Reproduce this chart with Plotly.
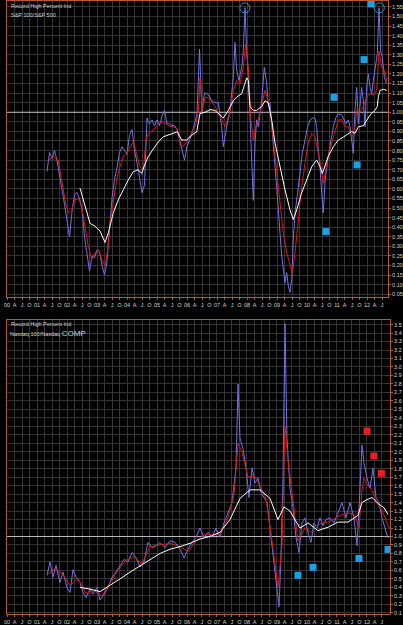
import plotly.graph_objects as go

# ---------------- DATA ----------------
# Top panel: S&P 100 / S&P 500 record-high percent ratio (decimal years)
top_blue_t = [2001.333, 2001.417, 2001.5, 2001.583, 2001.667, 2001.75, 2001.833, 2001.917,
              2002.0, 2002.083, 2002.167, 2002.25, 2002.333, 2002.417, 2002.5, 2002.583,
              2002.667, 2002.75, 2002.833, 2002.917, 2003.0, 2003.083, 2003.167, 2003.25,
              2003.333, 2003.417, 2003.5, 2003.583, 2003.667, 2003.75, 2003.833, 2003.917,
              2004.0, 2004.083, 2004.167, 2004.25, 2004.333, 2004.417, 2004.5, 2004.583,
              2004.667, 2004.75, 2004.833, 2004.917, 2005.0, 2005.083, 2005.167, 2005.25,
              2005.333, 2005.417, 2005.5, 2005.583, 2005.667, 2005.75, 2005.833, 2005.917,
              2006.0, 2006.083, 2006.167, 2006.25, 2006.333, 2006.417, 2006.5, 2006.583,
              2006.667, 2006.75, 2006.833,
              2006.933, 2007.044, 2007.156, 2007.211, 2007.322, 2007.433, 2007.544, 2007.6,
              2007.656, 2007.733, 2007.822, 2007.878, 2007.933, 2007.989, 2008.044, 2008.1,
              2008.156, 2008.211, 2008.267, 2008.322, 2008.378, 2008.489, 2008.578, 2008.656,
              2008.711, 2008.767, 2008.822, 2008.878, 2008.933, 2008.989, 2009.044, 2009.1,
              2009.156, 2009.211, 2009.267, 2009.322, 2009.378, 2009.433, 2009.489, 2009.544,
              2009.6, 2009.689, 2009.767, 2009.844, 2009.933, 2010.022, 2010.1, 2010.178,
              2010.267, 2010.322, 2010.378, 2010.433, 2010.489, 2010.544, 2010.6, 2010.656,
              2010.711, 2010.8, 2010.878, 2010.956, 2011.044, 2011.133, 2011.211, 2011.289,
              2011.378, 2011.433, 2011.489, 2011.544, 2011.6, 2011.656, 2011.711, 2011.767,
              2011.822, 2011.878, 2011.933, 2011.989, 2012.044, 2012.1, 2012.156, 2012.211,
              2012.267, 2012.344, 2012.4, 2012.456, 2012.511, 2012.578, 2012.656]
top_blue_v = [0.69, 0.79, 0.76, 0.80, 0.75, 0.66, 0.595, 0.52,
              0.43, 0.35, 0.48, 0.57, 0.58, 0.55, 0.49, 0.35,
              0.26, 0.17, 0.25, 0.24, 0.28, 0.27, 0.20, 0.15,
              0.22, 0.40, 0.55, 0.65, 0.71, 0.79, 0.82, 0.80,
              0.78, 0.88, 0.91, 0.80, 0.74, 0.66, 0.58, 0.62,
              0.97, 0.94, 0.96, 0.93, 0.96, 0.93, 0.98, 1.01,
              0.94, 0.94, 0.93, 0.93, 0.91, 0.86, 0.80, 0.75,
              0.82, 0.85, 0.89, 0.94, 0.99, 1.33, 1.00, 1.10,
              1.10, 1.08, 1.06,
              1.05, 1.05, 0.924, 0.82, 0.924, 1.01, 1.18, 1.365,
              1.22, 1.166, 1.235, 1.32, 1.546, 1.32, 1.20, 1.01,
              0.75, 0.54, 0.84, 0.96, 0.924, 1.06, 1.235, 1.15,
              1.03, 1.05, 0.924, 0.82, 0.716, 0.61, 0.51, 0.37,
              0.25, 0.163, 0.11, 0.163, 0.093, 0.059, 0.128, 0.336,
              0.474, 0.58, 0.70, 0.786, 0.855, 0.924, 0.96, 0.97,
              0.97, 0.924, 0.80, 0.716, 0.58, 0.474, 0.64, 0.715,
              0.77, 0.855, 0.924, 0.97, 0.99, 0.99, 0.97, 0.94,
              0.96, 0.924, 0.84, 0.786, 1.01, 1.13, 0.94, 1.06,
              1.13, 1.06, 0.924, 1.13, 1.20, 1.13, 1.097, 1.166,
              1.235, 1.305, 1.546, 1.32, 1.29, 1.18, 1.15]

top_red_t = [2001.377, 2001.543, 2001.71, 2001.823, 2001.933, 2002.043, 2002.157, 2002.267,
             2002.377, 2002.49, 2002.6, 2002.71, 2002.823, 2002.933, 2003.043, 2003.157,
             2003.267, 2003.357, 2003.433, 2003.543, 2003.657, 2003.767, 2003.877, 2003.99,
             2004.1, 2004.21, 2004.323, 2004.433, 2004.543, 2004.633, 2004.71, 2004.877,
             2005.043, 2005.21, 2005.377, 2005.543, 2005.677, 2005.823, 2005.933, 2006.1,
             2006.267, 2006.377, 2006.433, 2006.51, 2006.6, 2006.767, 2006.933, 2007.157,
             2007.267, 2007.433, 2007.543, 2007.657, 2007.767, 2007.877, 2007.957, 2008.043,
             2008.133, 2008.21, 2008.29, 2008.377, 2008.49, 2008.6, 2008.71, 2008.8,
             2008.877, 2008.99, 2009.1, 2009.21, 2009.323, 2009.433, 2009.51, 2009.6,
             2009.71, 2009.823, 2009.933, 2010.043, 2010.157, 2010.267, 2010.377, 2010.467,
             2010.543, 2010.623, 2010.71, 2010.823, 2010.933, 2011.043, 2011.157, 2011.267,
             2011.377, 2011.49, 2011.577, 2011.657, 2011.767, 2011.877, 2011.99, 2012.1,
             2012.21, 2012.323, 2012.4, 2012.49, 2012.577, 2012.657]
top_red_v = [0.75, 0.77, 0.75, 0.647, 0.543, 0.475, 0.49, 0.543,
             0.55, 0.51, 0.405, 0.30, 0.232, 0.267, 0.284, 0.232,
             0.197, 0.284, 0.42, 0.543, 0.647, 0.716, 0.77, 0.78,
             0.82, 0.846, 0.786, 0.716, 0.70, 0.855, 0.89, 0.907,
             0.94, 0.95, 0.93, 0.924, 0.915, 0.82, 0.83, 0.88,
             0.924, 0.993, 1.18, 1.01, 1.08, 1.07, 1.03, 0.96,
             0.924, 1.0, 1.114, 1.166, 1.15, 1.235, 1.356, 1.235,
             0.96, 0.855, 0.924, 0.96, 1.03, 1.114, 1.06, 0.976,
             0.855, 0.68, 0.51, 0.37, 0.267, 0.197, 0.163, 0.267,
             0.457, 0.61, 0.734, 0.84, 0.89, 0.872, 0.786, 0.716,
             0.63, 0.70, 0.77, 0.84, 0.907, 0.96, 0.96, 0.924,
             0.924, 0.872, 0.89, 1.01, 1.0, 1.03, 1.08, 1.097,
             1.09, 1.114, 1.32, 1.235, 1.22, 1.166]

top_white_t = [2002.433, 2002.6, 2002.767, 2002.933, 2003.1, 2003.267, 2003.377, 2003.543,
               2003.71, 2003.877, 2004.043, 2004.21, 2004.377, 2004.49, 2004.567, 2004.71,
               2004.877, 2005.043, 2005.21, 2005.377, 2005.543, 2005.677, 2005.823, 2005.99,
               2006.157, 2006.323, 2006.433, 2006.6, 2006.767, 2006.933, 2007.21, 2007.377,
               2007.543, 2007.657, 2007.823, 2007.99, 2008.043, 2008.1, 2008.21, 2008.323,
               2008.49, 2008.6, 2008.71, 2008.823, 2008.933, 2009.1, 2009.267, 2009.433,
               2009.543, 2009.657, 2009.823, 2009.99, 2010.157, 2010.323, 2010.433, 2010.51,
               2010.6, 2010.71, 2010.877, 2011.043, 2011.21, 2011.377, 2011.49, 2011.6,
               2011.71, 2011.877, 2011.99, 2012.1, 2012.267, 2012.343, 2012.377, 2012.433,
               2012.543, 2012.657]
top_white_v = [0.604, 0.51, 0.42, 0.405, 0.38, 0.32, 0.37, 0.475,
               0.543, 0.595, 0.647, 0.69, 0.70, 0.68, 0.716, 0.77,
               0.81, 0.846, 0.872, 0.88, 0.89, 0.898, 0.855, 0.855,
               0.88, 0.898, 0.993, 1.00, 1.014, 1.01, 0.97, 1.01,
               1.06, 1.08, 1.097, 1.18, 1.166, 1.03, 1.01, 1.01,
               1.03, 1.06, 1.05, 0.96, 0.84, 0.716, 0.595, 0.49,
               0.44, 0.49, 0.58, 0.647, 0.716, 0.75, 0.716, 0.68,
               0.716, 0.77, 0.82, 0.855, 0.87, 0.89, 0.90, 0.89,
               0.924, 0.93, 0.96, 0.985, 1.01, 1.03, 1.08, 1.114,
               1.12, 1.114]

top_blue_sq_t = [2012.13, 2011.9, 2010.9, 2011.67, 2010.63]
top_blue_sq_v = [1.566, 1.275, 1.078, 0.725, 0.377]
top_circle_t = [2007.93, 2012.41]
top_circle_v = [1.545, 1.545]

# Bottom panel: Nasdaq 100 / Nasdaq COMP
bot_blue_t = [2001.333, 2001.433, 2001.533, 2001.633, 2001.767, 2001.867, 2002.0, 2002.1,
              2002.2, 2002.3, 2002.433, 2002.533, 2002.633, 2002.767, 2002.867, 2003.0,
              2003.1, 2003.233, 2003.367, 2003.5, 2003.633, 2003.767, 2003.9, 2004.033,
              2004.167, 2004.3, 2004.433, 2004.567, 2004.7, 2004.833, 2004.967, 2005.1,
              2005.267, 2005.433, 2005.6, 2005.767, 2005.9, 2006.033, 2006.167, 2006.3,
              2006.433, 2006.567, 2006.7, 2006.833, 2006.967, 2007.1, 2007.233, 2007.367,
              2007.5, 2007.633, 2007.7, 2007.767, 2007.867, 2007.967, 2008.067, 2008.167,
              2008.267, 2008.367, 2008.467, 2008.567, 2008.667, 2008.767, 2008.867, 2008.967,
              2009.067, 2009.133, 2009.2, 2009.267, 2009.333, 2009.433, 2009.533, 2009.633,
              2009.733, 2009.833, 2009.933, 2010.033, 2010.133, 2010.233, 2010.333, 2010.433,
              2010.533, 2010.633, 2010.767, 2010.9, 2011.033, 2011.167, 2011.3, 2011.433,
              2011.567, 2011.667, 2011.767, 2011.833, 2011.9, 2012.0, 2012.1, 2012.2,
              2012.3, 2012.4, 2012.5, 2012.6, 2012.7]
bot_blue_v = [0.54, 0.70, 0.52, 0.66, 0.46, 0.58, 0.40, 0.34,
              0.61, 0.52, 0.46, 0.34, 0.28, 0.38, 0.32, 0.40,
              0.25, 0.31, 0.40, 0.52, 0.58, 0.66, 0.73, 0.70,
              0.81, 0.75, 0.64, 0.70, 0.93, 0.87, 0.89, 0.93,
              0.87, 0.95, 0.93, 0.85, 0.75, 0.85, 0.93, 0.99,
              1.10, 0.99, 1.05, 0.99, 1.10, 0.99, 1.16, 1.28,
              1.40, 1.81, 2.80, 2.16, 2.04, 1.81, 1.46, 1.81,
              1.63, 1.69, 1.52, 1.46, 1.40, 1.10, 0.81, 0.52,
              0.17, 0.75, 1.69, 3.51, 2.16, 1.57, 1.34, 0.99,
              0.81, 1.16, 1.22, 1.05, 0.93, 1.16, 1.10, 1.22,
              1.13, 1.20, 1.22, 1.16, 1.28, 1.40, 1.22, 1.40,
              1.22, 0.89, 1.57, 2.08, 1.87, 1.69, 1.57, 1.81,
              1.46, 1.40, 1.22, 1.10, 0.98]

bot_red_t = [2001.333, 2001.6, 2001.867, 2002.1, 2002.367, 2002.633, 2002.9, 2003.167,
             2003.433, 2003.7, 2003.967, 2004.233, 2004.5, 2004.767, 2005.1, 2005.433,
             2005.767, 2006.033, 2006.3, 2006.567, 2006.833, 2007.1, 2007.367, 2007.567,
             2007.7, 2007.833, 2008.033, 2008.233, 2008.433, 2008.633, 2008.833, 2009.033,
             2009.167, 2009.267, 2009.367, 2009.533, 2009.7, 2009.933, 2010.167, 2010.433,
             2010.767, 2011.1, 2011.367, 2011.6, 2011.733, 2011.833, 2011.9, 2012.0,
             2012.167, 2012.333, 2012.5, 2012.667, 2012.733]
bot_red_v = [0.55, 0.62, 0.55, 0.42, 0.50, 0.33, 0.36, 0.30,
             0.45, 0.60, 0.72, 0.76, 0.68, 0.88, 0.90, 0.92,
             0.88, 0.82, 0.95, 1.02, 1.02, 1.03, 1.22, 1.50,
             2.10, 2.00, 1.70, 1.72, 1.60, 1.45, 0.95, 0.40,
             0.90, 2.30, 1.90, 1.45, 0.95, 1.10, 1.05, 1.15,
             1.18, 1.25, 1.28, 1.25, 1.10, 1.54, 1.69, 1.62,
             1.54, 1.39, 1.31, 1.16, 1.10]

bot_white_t = [2002.433, 2002.767, 2003.1, 2003.433, 2003.767, 2004.1, 2004.433, 2004.767,
               2005.1, 2005.433, 2005.767, 2006.1, 2006.433, 2006.767, 2007.1, 2007.433,
               2007.767, 2008.1, 2008.433, 2008.767, 2009.033, 2009.233, 2009.433, 2009.767,
               2010.033, 2010.367, 2010.7, 2011.033, 2011.367, 2011.7, 2011.833, 2011.967,
               2012.167, 2012.367, 2012.567, 2012.7]
bot_white_v = [0.40, 0.38, 0.35, 0.42, 0.50, 0.58, 0.65, 0.72,
               0.80, 0.85, 0.88, 0.92, 0.97, 1.00, 1.05, 1.20,
               1.45, 1.55, 1.55, 1.45, 1.20, 1.35, 1.30, 1.10,
               1.16, 1.07, 1.11, 1.17, 1.17, 1.25, 1.40, 1.43,
               1.46, 1.39, 1.34, 1.26]

bot_red_sq_t = [2012.0, 2012.23, 2012.48]
bot_red_sq_v = [2.243, 1.95, 1.745]
bot_blue_sq_t = [2009.7, 2010.2, 2011.73, 2012.7]
bot_blue_sq_v = [0.543, 0.637, 0.742, 0.848]

years = list(range(2000, 2013))
x_tickvals = []
x_ticktext = []
for yr in years:
    for q, lab in enumerate([f"{yr % 100:02d}", "A", "J", "O"]):
        v = yr + q * 0.25
        if v <= 2012.6:
            x_tickvals.append(v)
            x_ticktext.append(lab)

top_y_ticks = [round(0.05 * i, 2) for i in range(1, 32)]
top_y_text = [f"{v:.2f}" for v in top_y_ticks]
bot_y_ticks = [round(0.1 * i, 1) for i in range(1, 36)]
bot_y_text = [f"{v:.1f}" for v in bot_y_ticks]

# ---------------- STYLE ----------------
BORDER = "#b85a28"
GRID = "#363636"
TXT = "#d4d4d4"
BLUE = "#7272e6"
RED = "#e01818"
WHITE = "#ffffff"
SQ_BLUE = "#1aa0e4"
SQ_RED = "#ec1c24"
FONT = "Liberation Sans"

fig = go.Figure()

# horizontal reference line at 1.0 drawn first (under the data lines)
fig.add_trace(go.Scatter(x=[2000, 2012.7], y=[1.0, 1.0], xaxis="x", yaxis="y", mode="lines",
                         line=dict(color="#bdbdbd", width=1), hoverinfo="skip"))
fig.add_trace(go.Scatter(x=[2000, 2012.767], y=[1.0, 1.0], xaxis="x2", yaxis="y2", mode="lines",
                         line=dict(color="#bdbdbd", width=1), hoverinfo="skip"))


def add_lines(xa, ya, bt, bv, rt, rv, wt, wv):
    fig.add_trace(go.Scatter(x=bt, y=bv, xaxis=xa, yaxis=ya, mode="lines",
                             line=dict(color=BLUE, width=1), hoverinfo="skip"))
    fig.add_trace(go.Scatter(x=rt, y=rv, xaxis=xa, yaxis=ya, mode="lines",
                             line=dict(color=RED, width=1), hoverinfo="skip"))
    fig.add_trace(go.Scatter(x=wt, y=wv, xaxis=xa, yaxis=ya, mode="lines",
                             line=dict(color=WHITE, width=1), hoverinfo="skip"))


add_lines("x", "y", top_blue_t, top_blue_v, top_red_t, top_red_v, top_white_t, top_white_v)
add_lines("x2", "y2", bot_blue_t, bot_blue_v, bot_red_t, bot_red_v, bot_white_t, bot_white_v)

fig.add_trace(go.Scatter(x=top_blue_sq_t, y=top_blue_sq_v, xaxis="x", yaxis="y", mode="markers",
                         marker=dict(symbol="square", size=7, color=SQ_BLUE, line=dict(width=0))))
fig.add_trace(go.Scatter(x=top_circle_t, y=top_circle_v, xaxis="x", yaxis="y", mode="markers",
                         marker=dict(symbol="circle-open", size=10, color="#2f8cc4", line=dict(width=1))))
fig.add_trace(go.Scatter(x=bot_red_sq_t, y=bot_red_sq_v, xaxis="x2", yaxis="y2", mode="markers",
                         marker=dict(symbol="square", size=7, color=SQ_RED, line=dict(width=0))))
fig.add_trace(go.Scatter(x=bot_blue_sq_t, y=bot_blue_sq_v, xaxis="x2", yaxis="y2", mode="markers",
                         marker=dict(symbol="square", size=7, color=SQ_BLUE, line=dict(width=0))))

common_axis = dict(showgrid=True, gridcolor=GRID, gridwidth=1,
                   showline=True, linecolor=BORDER, linewidth=1, mirror=True,
                   ticks="outside", ticklen=2, tickcolor=BORDER, tickwidth=1,
                   tickfont=dict(family=FONT, size=5.5, color=TXT), zeroline=False)

W_PLOT = 383.0
H_PLOT = 617.0

fig.update_layout(
    width=403, height=625,
    margin=dict(l=7, r=13, t=0, b=8),
    paper_bgcolor="#000000", plot_bgcolor="#000000",
    showlegend=False,
    xaxis=dict(domain=[0, 381 / W_PLOT], range=[2000, 2012.7], anchor="y", tickangle=0,
               tickmode="array", tickvals=x_tickvals, ticktext=x_ticktext, **common_axis),
    yaxis=dict(domain=[1 - 298 / H_PLOT, 1], range=[0.035, 1.581], anchor="x", side="right",
               tickmode="array", tickvals=top_y_ticks, ticktext=top_y_text, **common_axis),
    xaxis2=dict(domain=[0, 1], range=[2000, 2012.767], anchor="y2", tickangle=0,
                tickmode="array", tickvals=x_tickvals, ticktext=x_ticktext, **common_axis),
    yaxis2=dict(domain=[0, 1 - 321 / H_PLOT], range=[0.086, 3.555], anchor="x2", side="right",
                tickmode="array", tickvals=bot_y_ticks, ticktext=bot_y_text, **common_axis),
    annotations=[
        dict(text="Record High Percent Ind", xref="paper", yref="paper", x=2 / W_PLOT, y=1 - 5 / H_PLOT,
             xanchor="left", yanchor="middle", showarrow=False,
             font=dict(family=FONT, size=5.5, color=TXT)),
        dict(text="S&P 100/S&P 500", xref="paper", yref="paper", x=2 / W_PLOT, y=1 - 14 / H_PLOT,
             xanchor="left", yanchor="middle", showarrow=False,
             font=dict(family=FONT, size=5.5, color=TXT)),
        dict(text="Record High Percent Ind", xref="paper", yref="paper", x=2 / W_PLOT, y=1 - 325 / H_PLOT,
             xanchor="left", yanchor="middle", showarrow=False,
             font=dict(family=FONT, size=5.5, color=TXT)),
        dict(text="Nasdaq 100/Nasdaq <span style='font-size:8px'>COMP</span>", xref="paper", yref="paper",
             x=1 / W_PLOT, y=1 - 335 / H_PLOT,
             xanchor="left", yanchor="middle", showarrow=False,
             font=dict(family=FONT, size=5.5, color=TXT)),
    ],
)

fig.write_html("out.html")
